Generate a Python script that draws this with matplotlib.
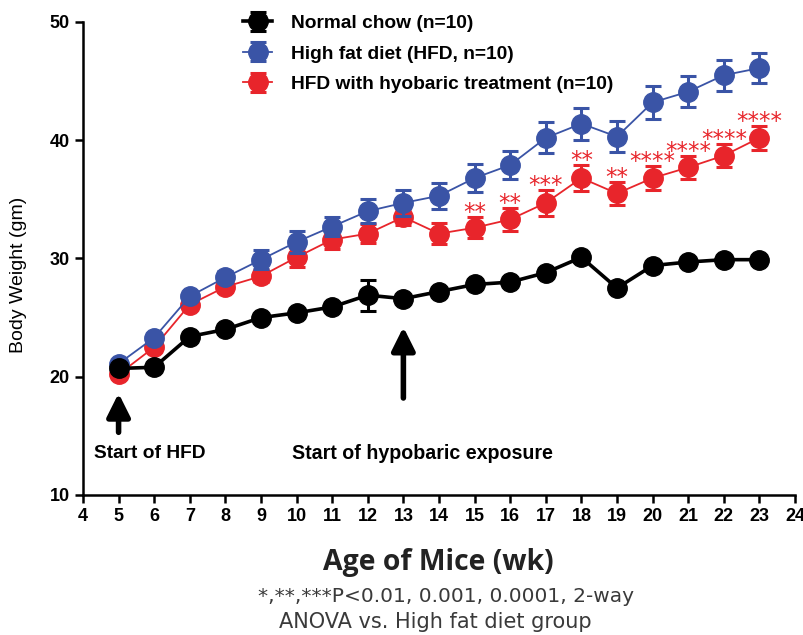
import matplotlib
matplotlib.use("Agg")
import matplotlib.pyplot as plt
import numpy as np

weeks = np.arange(5, 24)

chow = [20.7, 20.8, 23.4, 24.0, 25.0, 25.4, 25.9, 26.9, 26.6, 27.2, 27.8, 28.0,
        28.8, 30.1, 27.5, 29.4, 29.7, 29.9, 29.9]
chow_err = [0.3, 0.3, 0.3, 0.3, 0.3, 0.3, 0.3, 1.3, 0.3, 0.3, 0.3, 0.3,
            0.3, 0.3, 0.3, 0.3, 0.3, 0.3, 0.3]
hfd = [21.1, 23.3, 26.8, 28.4, 29.9, 31.4, 32.7, 34.0, 34.7, 35.3, 36.8, 37.9,
       40.2, 41.4, 40.3, 43.2, 44.1, 45.5, 46.1]
hfd_err = [0.3, 0.4, 0.4, 0.5, 0.8, 0.9, 0.8, 1.0, 1.1, 1.1, 1.2, 1.2,
           1.3, 1.35, 1.3, 1.4, 1.3, 1.3, 1.3]
hypo = [20.2, 22.5, 26.1, 27.6, 28.5, 30.1, 31.6, 32.1, 33.5, 32.1, 32.6, 33.3,
        34.7, 36.8, 35.5, 36.8, 37.7, 38.7, 40.2]
hypo_err = [0.3, 0.4, 0.4, 0.4, 0.5, 0.8, 0.8, 0.8, 0.7, 0.9, 0.9, 1.0,
            1.1, 1.1, 1.0, 1.0, 1.0, 1.0, 1.0]

star_weeks = [15, 16, 17, 18, 19, 20, 21, 22, 23]
star_text = ['**', '**', '***', '**', '**', '****', '****', '****', '****']

labels = ['Normal chow (n=10)', 'High fat diet (HFD, n=10)',
          'HFD with hyobaric treatment (n=10)']

blue = '#3a54a6'
red = '#e8252b'

fig = plt.figure(figsize=(8.04, 6.35), dpi=100)
ax = fig.add_axes([0.1032, 0.2205, 0.8856, 0.7449])

eb = dict(capsize=6, capthick=2.2, elinewidth=2.2, markersize=14)
hr = ax.errorbar(weeks, hypo, yerr=hypo_err, color=red, marker='o', lw=1.3,
                 zorder=2, **eb)
hb = ax.errorbar(weeks, hfd, yerr=hfd_err, color=blue, marker='o', lw=1.3,
                 zorder=3, **eb)
hk = ax.errorbar(weeks, chow, yerr=chow_err, color='black', marker='o', lw=2.6,
                 zorder=4, **eb)

# significance stars above the red error bars
for w, s in zip(star_weeks, star_text):
    i = list(weeks).index(w)
    ax.text(w, hypo[i] + hypo_err[i] - 0.6, s, color=red, ha='center',
            va='bottom', fontsize=16.5, family='DejaVu Sans')

ax.set_xlim(4, 24)
ax.set_ylim(10, 50)
ax.set_xticks(range(4, 25))
ax.set_yticks(range(10, 51, 10))
ax.spines['top'].set_visible(False)
ax.spines['right'].set_visible(False)
for sp in ('left', 'bottom'):
    ax.spines[sp].set_linewidth(1.8)
ax.tick_params(width=1.8, length=6)
for t in ax.get_yticklabels():
    t.set_fontsize(13)
    t.set_fontweight('bold')
    t.set_family('Liberation Sans')
for t in ax.get_xticklabels():
    t.set_fontsize(13)
    t.set_fontweight('bold')
    t.set_family(['Liberation Sans Narrow', 'Liberation Sans'])

ax.set_ylabel('Body Weight (gm)', fontsize=14, family='Liberation Sans')
ax.yaxis.set_label_coords(-0.078, 0.465)

# arrows and annotations
arrow = dict(arrowstyle='-|>,head_width=0.5,head_length=1.0', lw=4,
             color='black', mutation_scale=14, shrinkA=0, shrinkB=0)
ax.annotate('', xy=(5, 18.6), xytext=(5, 15.3), arrowprops=arrow)
ax.annotate('', xy=(13, 24.2), xytext=(13, 18.2), arrowprops=arrow)
ax.text(4.3, 13.5, 'Start of HFD', fontsize=13.8, fontweight='bold',
        family='Liberation Sans', va='center')
ax.text(9.87, 13.5, 'Start of hypobaric exposure', fontsize=14.1,
        fontweight='bold', family='Liberation Sans', va='center')

leg = fig.legend([hk, hb, hr], labels, loc='upper left',
                 bbox_to_anchor=(0.281, 1.004), frameon=False,
                 prop=dict(family='Liberation Sans', weight='bold', size=13.8),
                 handlelength=1.5, labelspacing=0.68, handletextpad=1.0)

fig.text(0.545, 0.1134, 'Age of Mice (wk)', ha='center', va='center',
         fontsize=20.4, fontweight='bold', family='Open Sans', color='#222222')
fig.text(0.555, 0.060, '*,**,***P<0.01, 0.001, 0.0001, 2-way',
         ha='center', va='center', fontsize=14.5, family='DejaVu Sans',
         color='#3a3a3a')
fig.text(0.541, 0.020, 'ANOVA vs. High fat diet group', ha='center',
         va='center', fontsize=15, family='DejaVu Sans', color='#3a3a3a')

fig.savefig('out.png', dpi=100)
